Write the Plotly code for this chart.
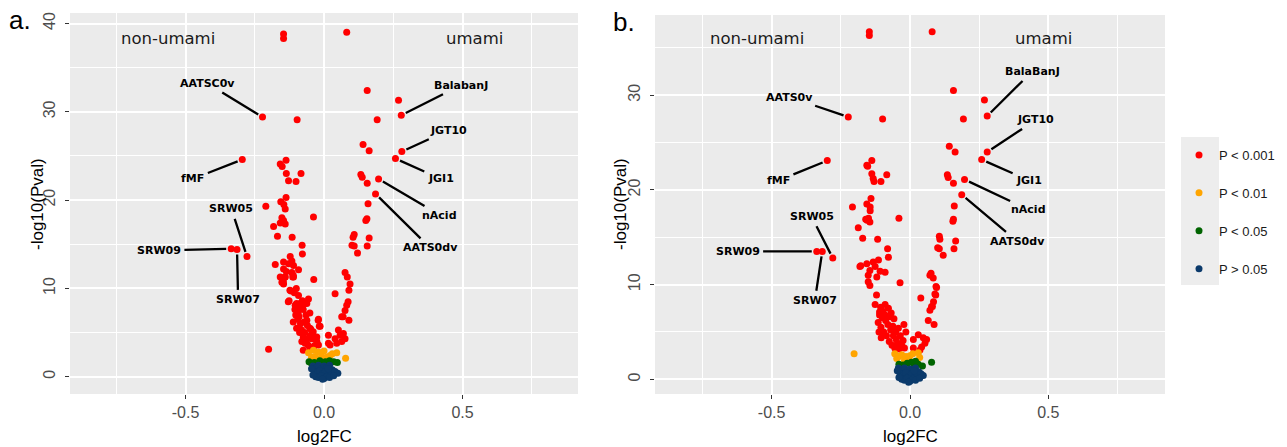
import plotly.graph_objects as go

# ---------------- data: panel a ----------------
A_RED_X = [-0.146, -0.146, 0.082,
           0.156, 0.269, 0.279, 0.192, -0.222, -0.097,
           0.141, 0.163, 0.281, 0.258, -0.295,
           -0.137, -0.158, -0.151, -0.136, -0.083, -0.128, -0.101,
           0.133, 0.138, 0.197, 0.156, 0.186,
           -0.137, -0.156, -0.145, -0.140, -0.210, -0.038, 0.159,
           -0.152, -0.146, -0.158, -0.140, -0.182, 0.155, 0.151,
           -0.168, -0.115, 0.109, 0.105, 0.163, 0.156, 0.101, 0.109, 0.121,
           -0.079, -0.078,
           -0.335, -0.314, -0.278,
           -0.122, -0.116, -0.128, -0.146, -0.176, -0.110, -0.092, -0.146, -0.116, -0.140, -0.110, -0.158, -0.136,
           -0.037, 0.076, 0.084,
           -0.152, -0.146, -0.113, -0.141, -0.147, -0.111,
           0.094, 0.090, -0.119, 0.040, -0.126, -0.123, -0.129,
           0.087, 0.082, 0.076, 0.064,
           -0.104, -0.086, -0.056, -0.062, -0.098, -0.099, -0.069, -0.075, -0.051, -0.093, -0.105,
           0.069, 0.090, -0.020, -0.017, -0.021, -0.014,
           -0.111, -0.099, -0.081, -0.062, -0.051, -0.039, -0.075, -0.062, -0.044, -0.026, -0.075, -0.051, -0.026,
           -0.090, -0.085, -0.070, -0.065, -0.080, -0.058, -0.045, -0.035, -0.030, -0.088, -0.095, -0.072,
           -0.060, -0.052, -0.068, -0.040, -0.102, -0.083, -0.078, -0.092, -0.107, -0.100, -0.048, -0.020,
           0.052, 0.058, 0.040, 0.070, 0.016, 0.016, 0.046, 0.076, 0.022, 0.064,
           -0.200]
A_RED_Y = [38.8, 38.3, 39.0,
           32.4, 31.3, 29.6, 29.1, 29.4, 29.1,
           26.3, 25.6, 25.5, 24.7, 24.6,
           24.5, 24.1, 23.8, 23.0, 23.0, 22.2, 22.1,
           22.9, 22.6, 22.4, 21.9, 20.7,
           20.3, 19.8, 19.5, 19.0, 19.3, 18.1, 19.6,
           18.0, 17.7, 17.4, 17.3, 17.0, 17.9, 17.7,
           15.9, 15.8, 16.1, 15.8, 15.7, 14.8, 14.9, 14.8, 14.0,
           14.9, 13.9,
           14.5, 14.4, 13.6,
           13.6, 13.1, 12.8, 13.0, 12.7, 12.6, 12.1, 12.2, 11.8, 11.3, 11.3, 11.3, 11.9,
           11.0, 11.8, 11.3,
           10.7, 10.5, 11.3, 11.3, 10.8, 11.5,
           10.5, 9.8, 9.7, 9.4, 8.6, 9.8, 8.5,
           8.5, 8.1, 7.5, 6.8,
           8.1, 8.3, 8.8, 8.3, 7.5, 8.3, 8.3, 7.6, 7.2, 7.2, 7.6,
           6.8, 6.4, 6.5, 5.7, 6.4, 5.7,
           6.2, 5.5, 5.3, 6.4, 5.5, 5.1, 4.5, 4.2, 4.3, 4.0, 3.0, 3.2, 4.5,
           6.8, 6.0, 5.0, 7.0, 4.0, 3.6, 4.8, 3.5, 4.2, 5.0, 6.5, 6.2,
           5.8, 4.6, 3.8, 3.1, 7.0, 7.8, 8.6, 9.2, 9.5, 10.0, 5.4, 3.6,
           5.3, 4.7, 4.3, 4.9, 4.7, 3.8, 3.8, 4.3, 3.6, 4.0,
           3.1]
A_ORANGE_X = [-0.056, -0.038, -0.020, -0.008, 0.010, -0.032, 0.046, 0.078, 0.022, -0.045, 0.000, 0.030, -0.015]
A_ORANGE_Y = [2.7, 3.0, 2.8, 2.3, 2.2, 2.3, 2.7, 2.1, 2.4, 2.2, 2.9, 2.6, 2.0]
A_GREEN_X = [-0.054, -0.035, -0.015, 0.005, 0.020, 0.035, 0.048, -0.025, 0.012, -0.045]
A_GREEN_Y = [1.7, 1.6, 1.8, 1.7, 1.8, 1.7, 1.6, 1.5, 1.5, 1.5]
A_NAVY_X = [-0.040, -0.030, -0.020, -0.010, 0.000, 0.010, 0.020, 0.030, -0.035, -0.025, -0.015, -0.005, 0.005,
            0.015, 0.025, 0.040, 0.050, -0.030, -0.020, -0.010, 0.000, 0.010, 0.020, -0.040, 0.035, -0.005, 0.015, -0.045]
A_NAVY_Y = [1.2, 1.0, 1.3, 0.9, 1.2, 1.0, 1.3, 0.8, 0.6, 0.4, 0.7, 0.3, 0.6,
            0.2, 0.5, 0.6, 0.4, 0.0, -0.1, 0.1, -0.2, 0.0, -0.1, 0.2, 0.1, -0.3, 0.9, 0.9]

# ---------------- data: panel b ----------------
B_RED_X = [-0.147, -0.147, 0.080,
           0.157, 0.269, 0.279, 0.193, -0.223, -0.099,
           0.142, 0.163, 0.279, 0.259, -0.299,
           -0.138, -0.156, -0.153, -0.138, -0.133, -0.084, -0.105, -0.130,
           0.135, 0.138, 0.157, 0.197, 0.187, 0.160, 0.157, 0.155,
           -0.141, -0.156, -0.144, -0.144, -0.208, -0.040,
           -0.150, -0.155, -0.145, -0.160, -0.187, -0.171, -0.117,
           0.106, 0.108, 0.100, 0.106, 0.165, 0.159, 0.120,
           -0.081, -0.078,
           -0.337, -0.317, -0.279,
           -0.181, -0.156, -0.133, -0.114, -0.126, -0.145, -0.108, -0.090, -0.151, -0.120, -0.178,
           0.076, 0.084, 0.072,
           -0.036, 0.094, 0.090, -0.151, -0.145, -0.121, 0.039,
           -0.126, -0.106, -0.090, -0.078, -0.110,
           0.078, 0.085, 0.072, 0.066, 0.087, -0.022, -0.015, 0.096, 0.093, 0.081,
           -0.115, -0.105, -0.100, -0.095, -0.090, -0.085, -0.080, -0.075, -0.070, -0.065, -0.060, -0.055, -0.050,
           -0.045, -0.040, -0.035, -0.030, -0.025, -0.020, -0.110, -0.098, -0.088, -0.072, -0.062, -0.052, -0.042,
           -0.068, -0.058, -0.112, -0.104,
           0.012, 0.030, 0.048, 0.060, 0.054, 0.042, 0.012, 0.036]
B_RED_Y = [36.7, 36.3, 36.7,
           30.5, 29.5, 27.8, 27.5, 27.7, 27.5,
           24.6, 24.0, 24.0, 23.2, 23.1,
           23.1, 22.6, 22.5, 21.7, 21.2, 21.6, 20.9, 20.9,
           21.6, 21.3, 20.7, 21.1, 19.5, 18.3, 16.9, 16.7,
           19.1, 18.5, 18.2, 17.8, 18.2, 17.0,
           17.0, 16.8, 16.6, 16.9, 16.0, 14.9, 14.8,
           15.1, 14.8, 13.9, 13.8, 14.6, 13.8, 13.1,
           13.8, 12.9,
           13.5, 13.5, 12.8,
           11.9, 12.2, 12.4, 12.6, 11.9, 11.5, 11.4, 11.3, 11.0, 10.8, 12.0,
           11.2, 10.7, 11.0,
           10.2, 9.8, 9.0, 10.3, 9.9, 8.9, 8.6,
           7.9, 7.6, 7.9, 7.5, 7.1,
           7.7, 8.2, 7.3, 6.2, 5.8, 5.8, 5.0, 9.7, 8.9, 7.7,
           6.0, 5.5, 6.5, 5.0, 6.8, 4.6, 5.8, 4.0, 5.2, 3.6, 4.6, 3.3, 4.2,
           3.8, 3.2, 4.6, 3.6, 4.1, 3.3, 6.8, 7.2, 6.2, 6.6, 5.6, 5.0, 5.4,
           7.0, 6.4, 5.0, 4.4,
           4.2, 4.7, 4.4, 4.2, 3.8, 3.4, 3.3, 3.1]
B_ORANGE_X = [-0.202, -0.055, -0.040, -0.030, -0.015, -0.005, 0.010, 0.030, 0.035, -0.020, 0.000, -0.048]
B_ORANGE_Y = [2.7, 2.7, 2.4, 2.6, 2.4, 2.2, 2.7, 2.8, 2.3, 2.0, 2.5, 2.2]
B_GREEN_X = [0.078, -0.040, -0.025, -0.010, 0.005, 0.015, 0.030, 0.045, -0.032, 0.020]
B_GREEN_Y = [1.8, 1.6, 1.5, 1.7, 1.8, 1.5, 1.6, 1.4, 1.3, 1.9]
B_NAVY_X = [-0.042, -0.030, -0.020, -0.010, 0.000, 0.010, 0.020, 0.032, -0.036, -0.025, -0.015, -0.005, 0.005,
            0.015, 0.025, 0.040, 0.048, -0.030, -0.020, -0.010, 0.000, 0.010, 0.020, -0.040, 0.035, -0.005, 0.015, -0.046]
B_NAVY_Y = [1.2, 1.0, 1.2, 0.9, 1.1, 1.0, 1.2, 0.8, 0.6, 0.4, 0.7, 0.3, 0.6,
            0.2, 0.5, 0.6, 0.4, 0.0, -0.1, 0.1, -0.2, 0.0, -0.1, 0.2, 0.1, -0.3, 0.9, 0.9]

# ---------------- labels ----------------
A_LABELS = ["AATSC0v", "fMF", "SRW05", "SRW09", "SRW07", "BalabanJ", "JGT10", "JGI1", "nAcid", "AATS0dv"]
A_LAB_PX = [-0.222, -0.295, -0.278, -0.335, -0.314, 0.279, 0.281, 0.258, 0.197, 0.186]
A_LAB_PY = [29.4, 24.6, 13.6, 14.5, 14.4, 29.6, 25.5, 24.7, 22.4, 20.7]
A_LAB_TX = [-0.421, -0.473, -0.334, -0.596, -0.310, 0.493, 0.448, 0.421, 0.418, 0.383]
A_LAB_TY = [33.2, 22.4, 19.0, 14.3, 8.7, 33.0, 27.9, 22.4, 18.3, 14.6]

B_LABELS = ["AATS0v", "fMF", "SRW05", "SRW09", "SRW07", "BalaBanJ", "JGT10", "JGI1", "nAcid", "AATS0dv"]
B_LAB_PX = [-0.223, -0.299, -0.279, -0.337, -0.317, 0.279, 0.279, 0.259, 0.197, 0.187]
B_LAB_PY = [27.7, 23.1, 12.8, 13.5, 13.5, 27.8, 24.0, 23.2, 21.1, 19.5]
B_LAB_TX = [-0.435, -0.475, -0.356, -0.623, -0.344, 0.441, 0.455, 0.430, 0.430, 0.387]
B_LAB_TY = [29.8, 21.0, 17.2, 13.5, 8.3, 32.5, 27.4, 21.0, 17.9, 14.6]

CATEGORIES = ["P < 0.001", "P < 0.01", "P < 0.05", "P > 0.05"]
COLORS = ["#FF0000", "#FFA500", "#006400", "#0B3A6B"]
X_TICKS = [-0.5, 0.0, 0.5]
X_TICK_TEXT = ["-0.5", "0.0", "0.5"]
A_Y_TICKS = [0, 10, 20, 30, 40]
B_Y_TICKS = [0, 10, 20, 30]

fig = go.Figure()

panels = [
    ("x", "y", [(A_RED_X, A_RED_Y), (A_ORANGE_X, A_ORANGE_Y), (A_GREEN_X, A_GREEN_Y), (A_NAVY_X, A_NAVY_Y)], True),
    ("x2", "y2", [(B_RED_X, B_RED_Y), (B_ORANGE_X, B_ORANGE_Y), (B_GREEN_X, B_GREEN_Y), (B_NAVY_X, B_NAVY_Y)], False),
]
for xa, ya, groups, show in panels:
    for i, (gx, gy) in enumerate(groups):
        fig.add_trace(go.Scatter(
            x=gx, y=gy, mode="markers", xaxis=xa, yaxis=ya,
            marker=dict(color=COLORS[i], size=7, line=dict(width=0)),
            name=CATEGORIES[i], legendgroup="g%d" % i, showlegend=show,
        ))

annotations = []
def add_labels(names, px, py, tx, ty, xr, yr):
    for n, a, b, c, d in zip(names, px, py, tx, ty):
        annotations.append(dict(
            x=a, y=b, ax=c, ay=d, xref=xr, yref=yr, axref=xr, ayref=yr,
            text="<b>%s</b>" % n, showarrow=True, arrowhead=0, arrowwidth=2.3,
            arrowcolor="black", standoff=5, startstandoff=2,
            font=dict(family="DejaVu Sans", size=11, color="black"),
        ))

add_labels(A_LABELS, A_LAB_PX, A_LAB_PY, A_LAB_TX, A_LAB_TY, "x", "y")
add_labels(B_LABELS, B_LAB_PX, B_LAB_PY, B_LAB_TX, B_LAB_TY, "x2", "y2")

side_font = dict(family="DejaVu Sans", size=16.5, color="#1a1a1a")
annotations += [
    dict(x=-0.563, y=38.3, xref="x", yref="y", text="non-umami", showarrow=False, font=side_font),
    dict(x=0.545, y=38.3, xref="x", yref="y", text="umami", showarrow=False, font=side_font),
    dict(x=-0.553, y=36.0, xref="x2", yref="y2", text="non-umami", showarrow=False, font=side_font),
    dict(x=0.481, y=36.0, xref="x2", yref="y2", text="umami", showarrow=False, font=side_font),
    dict(x=7 / 1287, y=1 - 20 / 447, xref="paper", yref="paper", text="a.", showarrow=False,
         xanchor="left", yanchor="middle", font=dict(family="Liberation Sans", size=26, color="black")),
    dict(x=611 / 1287, y=1 - 22 / 447, xref="paper", yref="paper", text="b.", showarrow=False,
         xanchor="left", yanchor="middle", font=dict(family="Liberation Sans", size=26, color="black")),
]
title_font = dict(family="Liberation Sans", size=17, color="black")
annotations += [
    dict(x=37 / 1287, y=1 - 204 / 447, xref="paper", yref="paper", text="-log10(Pval)", textangle=-90,
         xanchor="center", yanchor="middle", showarrow=False, font=title_font),
    dict(x=620 / 1287, y=1 - 204 / 447, xref="paper", yref="paper", text="-log10(Pval)", textangle=-90,
         xanchor="center", yanchor="middle", showarrow=False, font=title_font),
    dict(x=324 / 1287, y=1 - 436 / 447, xref="paper", yref="paper", text="log2FC",
         xanchor="center", yanchor="middle", showarrow=False, font=title_font),
    dict(x=910 / 1287, y=1 - 436 / 447, xref="paper", yref="paper", text="log2FC",
         xanchor="center", yanchor="middle", showarrow=False, font=title_font),
]

tick_font = dict(family="Liberation Sans", size=16, color="#4D4D4D")

def xaxis(domain, anchor, rng):
    return dict(domain=domain, anchor=anchor, range=rng, tickmode="array", tickvals=X_TICKS,
                ticktext=X_TICK_TEXT, showgrid=True, gridcolor="white", gridwidth=1.6, zeroline=False,
                ticks="outside", ticklen=4, tickwidth=1.1, tickcolor="#333333", tickfont=tick_font,
                showline=False,
                minor=dict(tickmode="array", tickvals=[-0.75, -0.25, 0.25, 0.75], showgrid=True,
                           gridcolor="white", gridwidth=0.8, ticks=""))

def yaxis(domain, anchor, rng, ticks, minors):
    return dict(domain=domain, anchor=anchor, range=rng, tickmode="array", tickvals=ticks,
                showgrid=True, gridcolor="white", gridwidth=1.6, zeroline=False,
                ticks="outside", ticklen=4, tickwidth=1.1, tickcolor="#333333", tickfont=tick_font,
                tickangle=-90, showline=False, ticklabelstandoff=4,
                minor=dict(tickmode="array", tickvals=minors, showgrid=True,
                           gridcolor="white", gridwidth=0.8, ticks=""))

shapes = [dict(type="rect", xref="paper", yref="paper", x0=1181 / 1287, x1=1219 / 1287,
               y0=1 - 285 / 447, y1=1 - 137 / 447, fillcolor="#EDEDED", line=dict(width=0), layer="below")]

fig.update_layout(
    width=1287, height=447,
    margin=dict(l=0, r=0, t=0, b=0),
    paper_bgcolor="white", plot_bgcolor="#EBEBEB",
    xaxis=xaxis([70 / 1287, 578 / 1287], "y", [-0.917, 0.917]),
    yaxis=yaxis([1 - 394 / 447, 1 - 13 / 447], "x", [-1.96, 41.19], A_Y_TICKS, [5, 15, 25, 35]),
    xaxis2=xaxis([655 / 1287, 1165 / 1287], "y2", [-0.9216, 0.9216]),
    yaxis2=yaxis([1 - 394 / 447, 1 - 15 / 447], "x2", [-1.55, 38.47], B_Y_TICKS, [5, 15, 25, 35]),
    annotations=annotations,
    shapes=shapes,
    showlegend=True,
    legend=dict(x=1179 / 1287, xanchor="left", y=1 - 140 / 447, yanchor="top",
                font=dict(family="Liberation Sans", size=13, color="#1a1a1a"),
                bgcolor="rgba(0,0,0,0)", tracegroupgap=18, traceorder="grouped"),
)

fig.write_html("out.html", config={"displayModeBar": False},
               post_script="document.body.style.margin='0px';document.body.style.padding='0px';")
